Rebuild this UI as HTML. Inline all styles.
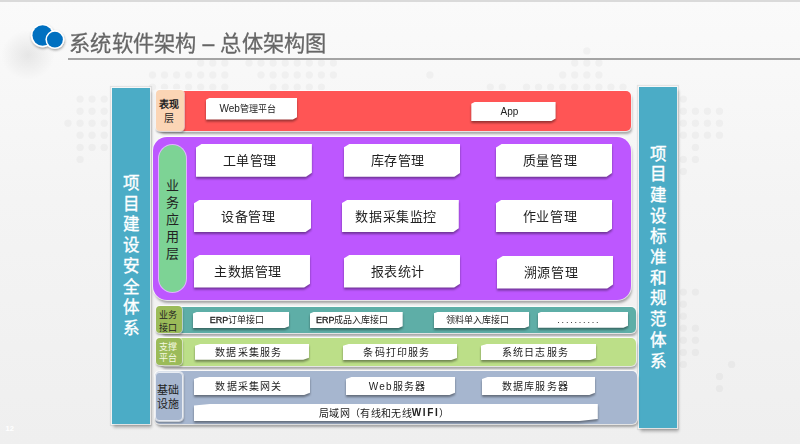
<!DOCTYPE html>
<html lang="zh-CN">
<head>
<meta charset="utf-8">
<style>
*{margin:0;padding:0;box-sizing:border-box;}
html,body{width:800px;height:444px;overflow:hidden;}
body{position:relative;font-family:"Liberation Sans",sans-serif;background:linear-gradient(to bottom,#fafafa 0%,#f8f8f8 16%,#f4f4f4 45%,#efefef 100%);}
.abs{position:absolute;}
#topline{left:0;top:0;width:800px;height:2px;background:#dadada;}
#uline{left:68px;top:58px;width:732px;height:1.6px;background:#a4a4a4;}
#title{left:68.8px;top:25.8px;font-size:21px;-webkit-text-stroke:0.25px #666;transform:scale(1.013,1.05);transform-origin:0 0;color:#666;white-space:nowrap;letter-spacing:0;}
.col{background:#4bacc6;box-shadow:0 0 0 1px rgba(255,255,255,.7),0 0 1px 1.8px rgba(0,0,0,.08),1px 3px 3px 0.5px rgba(0,0,0,.28);color:#fff;font-family:"Liberation Serif",serif;font-size:16.5px;-webkit-text-stroke:0.35px #fff;line-height:20.7px;text-align:center;}
.col span{display:block;}
.layer{border-radius:5px;box-shadow:0 0 0 1px rgba(255,255,255,.7),1px 3px 2.5px rgba(0,0,0,.32);}
.lab{border-radius:4px;font-size:10px;line-height:14px;text-align:center;color:#222;box-shadow:0 0 0 1px rgba(255,255,255,.6),0.5px 2px 2px rgba(0,0,0,.3);}
.bx{position:absolute;filter:drop-shadow(0.6px 2px 1.1px rgba(0,0,0,.4));--sx:4.5px;--sy:2px;--ex:4px;--ey:2px;}
.b13{--sx:6px;--sy:3.6px;--ex:6px;--ey:4px;}
.bx div{width:100%;height:100%;padding-right:8px;background:#fff;clip-path:polygon(5% 0,100% 0,100% 88%,95% 100%,0 100%,0 11%);display:flex;align-items:center;justify-content:center;color:#222;white-space:nowrap;}
.b13 div{font-size:13px;letter-spacing:0.6px;padding-right:8px;padding-bottom:1px;}
.b9 div{font-size:9px;}
.b10 div{font-size:10px;letter-spacing:1.2px;padding-right:6px !important;padding-bottom:1.5px;}
</style>
</head>
<body>
<div class="abs" id="topline"></div>
<svg class="abs" style="left:0;top:0;filter:blur(0.5px)" width="800" height="444" viewBox="0 0 800 444"><g fill="#000" fill-opacity="0.032"><circle cx="586.8" cy="50.9" r="3.7"/><circle cx="200.7" cy="63.0" r="3.7"/><circle cx="212.8" cy="63.0" r="3.7"/><circle cx="224.8" cy="63.0" r="3.7"/><circle cx="249.0" cy="63.0" r="3.7"/><circle cx="261.0" cy="63.0" r="3.7"/><circle cx="273.1" cy="63.0" r="3.7"/><circle cx="285.2" cy="63.0" r="3.7"/><circle cx="297.2" cy="63.0" r="3.7"/><circle cx="309.3" cy="63.0" r="3.7"/><circle cx="321.4" cy="63.0" r="3.7"/><circle cx="333.4" cy="63.0" r="3.7"/><circle cx="574.7" cy="63.0" r="3.7"/><circle cx="586.8" cy="63.0" r="3.7"/><circle cx="598.9" cy="63.0" r="3.7"/><circle cx="152.5" cy="75.0" r="3.7"/><circle cx="164.5" cy="75.0" r="3.7"/><circle cx="176.6" cy="75.0" r="3.7"/><circle cx="188.6" cy="75.0" r="3.7"/><circle cx="200.7" cy="75.0" r="3.7"/><circle cx="212.8" cy="75.0" r="3.7"/><circle cx="224.8" cy="75.0" r="3.7"/><circle cx="261.0" cy="75.0" r="3.7"/><circle cx="273.1" cy="75.0" r="3.7"/><circle cx="285.2" cy="75.0" r="3.7"/><circle cx="297.2" cy="75.0" r="3.7"/><circle cx="309.3" cy="75.0" r="3.7"/><circle cx="321.4" cy="75.0" r="3.7"/><circle cx="333.4" cy="75.0" r="3.7"/><circle cx="429.9" cy="75.0" r="3.7"/><circle cx="562.7" cy="75.0" r="3.7"/><circle cx="574.7" cy="75.0" r="3.7"/><circle cx="586.8" cy="75.0" r="3.7"/><circle cx="598.9" cy="75.0" r="3.7"/><circle cx="152.5" cy="87.1" r="3.7"/><circle cx="164.5" cy="87.1" r="3.7"/><circle cx="176.6" cy="87.1" r="3.7"/><circle cx="188.6" cy="87.1" r="3.7"/><circle cx="200.7" cy="87.1" r="3.7"/><circle cx="212.8" cy="87.1" r="3.7"/><circle cx="224.8" cy="87.1" r="3.7"/><circle cx="273.1" cy="87.1" r="3.7"/><circle cx="285.2" cy="87.1" r="3.7"/><circle cx="297.2" cy="87.1" r="3.7"/><circle cx="309.3" cy="87.1" r="3.7"/><circle cx="321.4" cy="87.1" r="3.7"/><circle cx="490.3" cy="87.1" r="3.7"/><circle cx="502.3" cy="87.1" r="3.7"/><circle cx="526.5" cy="87.1" r="3.7"/><circle cx="538.5" cy="87.1" r="3.7"/><circle cx="550.6" cy="87.1" r="3.7"/><circle cx="562.7" cy="87.1" r="3.7"/><circle cx="574.7" cy="87.1" r="3.7"/><circle cx="586.8" cy="87.1" r="3.7"/><circle cx="598.9" cy="87.1" r="3.7"/><circle cx="610.9" cy="87.1" r="3.7"/><circle cx="623.0" cy="87.1" r="3.7"/><circle cx="80.1" cy="99.1" r="3.7"/><circle cx="92.1" cy="99.1" r="3.7"/><circle cx="104.2" cy="99.1" r="3.7"/><circle cx="683.3" cy="99.1" r="3.7"/><circle cx="80.1" cy="111.2" r="3.7"/><circle cx="92.1" cy="111.2" r="3.7"/><circle cx="104.2" cy="111.2" r="3.7"/><circle cx="683.3" cy="111.2" r="3.7"/><circle cx="695.4" cy="111.2" r="3.7"/><circle cx="707.4" cy="111.2" r="3.7"/><circle cx="719.5" cy="111.2" r="3.7"/><circle cx="68.0" cy="123.2" r="3.7"/><circle cx="80.1" cy="123.2" r="3.7"/><circle cx="92.1" cy="123.2" r="3.7"/><circle cx="104.2" cy="123.2" r="3.7"/><circle cx="683.3" cy="123.2" r="3.7"/><circle cx="695.4" cy="123.2" r="3.7"/><circle cx="707.4" cy="123.2" r="3.7"/><circle cx="719.5" cy="123.2" r="3.7"/><circle cx="80.1" cy="135.3" r="3.7"/><circle cx="92.1" cy="135.3" r="3.7"/><circle cx="104.2" cy="135.3" r="3.7"/><circle cx="683.3" cy="135.3" r="3.7"/><circle cx="695.4" cy="135.3" r="3.7"/><circle cx="707.4" cy="135.3" r="3.7"/><circle cx="719.5" cy="135.3" r="3.7"/><circle cx="80.1" cy="147.4" r="3.7"/><circle cx="92.1" cy="147.4" r="3.7"/><circle cx="104.2" cy="147.4" r="3.7"/><circle cx="695.4" cy="147.4" r="3.7"/><circle cx="80.1" cy="159.4" r="3.7"/><circle cx="683.3" cy="159.4" r="3.7"/><circle cx="695.4" cy="159.4" r="3.7"/><circle cx="683.3" cy="171.5" r="3.7"/><circle cx="683.3" cy="292.1" r="3.7"/><circle cx="695.4" cy="292.1" r="3.7"/><circle cx="683.3" cy="304.2" r="3.7"/><circle cx="683.3" cy="316.2" r="3.7"/><circle cx="683.3" cy="328.3" r="3.7"/><circle cx="695.4" cy="328.3" r="3.7"/><circle cx="683.3" cy="340.3" r="3.7"/><circle cx="695.4" cy="340.3" r="3.7"/><circle cx="683.3" cy="352.4" r="3.7"/><circle cx="695.4" cy="352.4" r="3.7"/><circle cx="683.3" cy="364.4" r="3.7"/><circle cx="731.6" cy="364.4" r="3.7"/><circle cx="719.5" cy="376.5" r="3.7"/><circle cx="719.5" cy="388.6" r="3.7"/></g></svg>
<div class="abs" id="uline"></div>
<div class="abs" style="left:0;top:20px;width:70px;height:70px;background:radial-gradient(ellipse 27px 25px at 28px 35px,rgba(0,0,0,.075),rgba(0,0,0,0));"></div>
<!-- logo -->
<svg class="abs" style="left:25px;top:20px" width="45" height="35" viewBox="0 0 45 35">
<defs><filter id="ls" x="-50%" y="-50%" width="200%" height="200%"><feDropShadow dx="0.5" dy="1.5" stdDeviation="1.2" flood-color="#000" flood-opacity="0.35"/></filter></defs>
<g filter="url(#ls)">
<circle cx="17.6" cy="15.5" r="11.7" fill="#fff"/>
<circle cx="17.6" cy="15.5" r="10.15" fill="#0070c0"/>
<circle cx="29.9" cy="19.6" r="9.5" fill="#fff"/>
<circle cx="29.9" cy="19.6" r="7.95" fill="#0070c0"/>
</g>
</svg>
<div class="abs" id="title">系统软件架构 – 总体架构图</div>

<!-- side columns -->
<div class="abs col" style="left:112px;top:88px;width:38px;height:336px;padding-top:86px;">
<span>项</span><span>目</span><span>建</span><span>设</span><span>安</span><span>全</span><span>体</span><span>系</span></div>
<div class="abs col" style="left:639px;top:87px;width:38px;height:340.5px;padding-top:57.5px;">
<span>项</span><span>目</span><span>建</span><span>设</span><span>标</span><span>准</span><span>和</span><span>规</span><span>范</span><span>体</span><span>系</span></div>

<!-- red layer -->
<div class="abs layer" style="left:158px;top:90.6px;width:473px;height:40.7px;background:#ff5555;"></div>
<div class="abs lab" style="left:156px;top:90.4px;width:28px;height:40.8px;background:#fbd5b5;padding-top:8px;padding-right:2px;line-height:13.5px;font-weight:bold;">表现<br><span style="font-weight:normal">层</span></div>
<div class="bx b9" style="left:205.7px;top:97.5px;width:91.8px;height:22px;"><div><span style="font-size:10px">Web</span>管理平台</div></div>
<div class="bx b9" style="left:471.3px;top:101.6px;width:84.3px;height:19.3px;"><div style="font-size:10px">App</div></div>

<!-- purple layer -->
<div class="abs" style="left:153.4px;top:137.4px;width:478px;height:162.6px;background:#bd57ff;border-radius:14px;box-shadow:0 0 0 1px rgba(255,255,255,.7),1px 3px 2.5px rgba(0,0,0,.32);"></div>
<div class="abs" style="left:158.5px;top:145px;width:27.3px;height:146.6px;background:#7dd395;border-radius:13.6px;box-shadow:0 0 0 1px rgba(255,255,255,.55);color:#222;font-size:13px;line-height:16.9px;text-align:center;padding-top:33px;">业<br>务<br>应<br>用<br>层</div>
<div class="bx b13" style="left:195.7px;top:144px;width:116.2px;height:32.7px;"><div>工单管理</div></div>
<div class="bx b13" style="left:343.5px;top:144px;width:116.7px;height:32.7px;"><div>库存管理</div></div>
<div class="bx b13" style="left:495.8px;top:144px;width:116.6px;height:32.7px;"><div>质量管理</div></div>
<div class="bx b13" style="left:194px;top:199.7px;width:117px;height:32.6px;"><div>设备管理</div></div>
<div class="bx b13" style="left:341.7px;top:199.7px;width:117.1px;height:32.6px;"><div>数据采集监控</div></div>
<div class="bx b13" style="left:495.8px;top:199.7px;width:116.6px;height:32.6px;"><div>作业管理</div></div>
<div class="bx b13" style="left:193.9px;top:254.9px;width:116.1px;height:32.7px;"><div>主数据管理</div></div>
<div class="bx b13" style="left:343.7px;top:254.9px;width:116.3px;height:32.7px;"><div>报表统计</div></div>
<div class="bx b13" style="left:497px;top:256px;width:116px;height:32.5px;"><div>溯源管理</div></div>

<!-- teal layer -->
<div class="abs layer" style="left:160px;top:307px;width:476.3px;height:26px;background:#5eaea7;"></div>
<div class="abs lab" style="left:156px;top:306.3px;width:26.3px;height:26.7px;background:#9bbb59;font-size:9px;letter-spacing:0.2px;padding-right:2px;line-height:13.2px;padding-top:2.5px;">业务<br>接口</div>
<div class="bx b9" style="left:192.7px;top:311.7px;width:96.4px;height:16.5px;"><div><span style="-webkit-text-stroke:0.3px #222">ERP</span>订单接口</div></div>
<div class="bx b9" style="left:309.7px;top:311.7px;width:93px;height:16.5px;"><div><span style="-webkit-text-stroke:0.3px #222">ERP</span>成品入库接口</div></div>
<div class="bx b9" style="left:433.5px;top:311.7px;width:95.6px;height:16.5px;"><div>领料单入库接口</div></div>
<div class="bx b9" style="left:537.6px;top:311.5px;width:90.4px;height:16.3px;"><div style="letter-spacing:1.8px;">..........</div></div>

<!-- green layer -->
<div class="abs layer" style="left:160px;top:337.6px;width:476.3px;height:28.7px;background:#bcdf88;"></div>
<div class="abs lab" style="left:156px;top:337.9px;width:26.3px;height:27.6px;background:#9bbb59;color:#f4f8e0;font-size:9px;letter-spacing:0.2px;padding-right:2px;line-height:11px;padding-top:4px;">支撑<br>平台</div>
<div class="bx b10" style="left:194.7px;top:344px;width:114.3px;height:15.7px;"><div>数据采集服务</div></div>
<div class="bx b10" style="left:343px;top:344px;width:114px;height:16px;"><div>条码打印服务</div></div>
<div class="bx b10" style="left:481px;top:344px;width:115px;height:16px;"><div>系统日志服务</div></div>

<!-- gray-blue layer -->
<div class="abs layer" style="left:155px;top:370.5px;width:481.9px;height:53.3px;background:#a6b6cf;"></div>
<div class="abs lab" style="left:155.3px;top:371.9px;width:27.4px;height:49.6px;background:#a6b6cf;border:1px solid #e8ecf3;font-size:11px;line-height:14px;padding-top:10px;padding-right:1px;">基础<br>设施</div>
<div class="bx b10" style="left:194px;top:377px;width:116px;height:18px;"><div>数据采集网关</div></div>
<div class="bx b10" style="left:346px;top:377px;width:109px;height:18px;"><div>Web服务器</div></div>
<div class="bx b10" style="left:482px;top:377px;width:113px;height:18px;"><div>数据库服务器</div></div>
<div class="bx b10" style="left:194px;top:403.6px;width:403.8px;height:17.6px;"><div style="letter-spacing:0.3px;padding-right:23px !important;padding-bottom:0;">局域网（有线和无线<b style="letter-spacing:1.6px">WIFI</b>）</div></div>
<div class="abs" style="left:5.5px;top:424px;font-size:7.5px;font-weight:bold;color:#fff;line-height:9px;">12</div>
</body>
</html>
